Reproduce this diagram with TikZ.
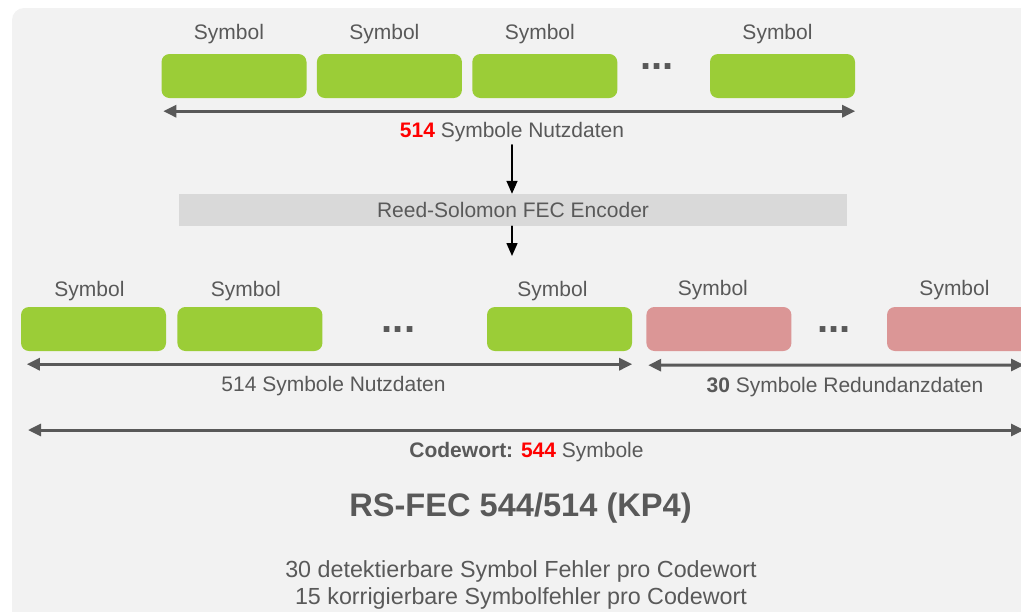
\documentclass[tikz,border=0pt]{standalone}
\usepackage{fontspec}
\setmainfont{Liberation Sans}
\usetikzlibrary{arrows.meta}
\usetikzlibrary{positioning}
\definecolor{bggray}{HTML}{F2F2F2}
\definecolor{txtgray}{HTML}{595959}
\definecolor{symgreen}{HTML}{9BCD37}
\definecolor{sympink}{HTML}{DB9696}
\definecolor{encgray}{HTML}{D9D9D9}
\definecolor{hlred}{HTML}{FF0000}

\begin{document}
\begin{tikzpicture}[line cap=round,line join=round,x=1pt,y=-1pt,
  font=\fontsize{21}{25}\selectfont,text=txtgray,
  symbox/.style={rounded corners=8pt,minimum width=145pt,minimum height=44pt,inner sep=0pt},
  databox/.style={symbox,fill=symgreen},
  redbox/.style={symbox,fill=sympink},
  symlbl/.style={anchor=base,inner sep=0pt},
  dots/.style={anchor=base,inner sep=0pt,font=\fontsize{40}{40}\selectfont\bfseries},
  dim/.style={txtgray,line width=3pt,{Triangle[length=13pt,width=12pt]}-{Triangle[length=13pt,width=12pt]}},
  flow/.style={black,line width=1.5pt,-{Triangle[length=13pt,width=11pt]}}]
\useasboundingbox (0,0) rectangle (1021,611);
\clip (0,0) rectangle (1021,611);
\fill [bggray,rounded corners=12pt] (12,8) rectangle (1045,640);

% Nutzdaten vor dem Encoder
\node [databox] (t1) at (234,76) {};
\node [databox,right=10pt of t1] (t2) {};
\node [databox,right=10pt of t2] (t3) {};
\node [databox] (t4) at (782.5,76) {};
\node [dots] (tdots) at (657,69) {...};
\node [symlbl] (lt1) at ([xshift=-5pt,yshift=14pt]t1.north) {Symbol};
\node [symlbl] (lt2) at ([xshift=-5pt,yshift=14pt]t2.north) {Symbol};
\node [symlbl] (lt3) at ([xshift=-5pt,yshift=14pt]t3.north) {Symbol};
\node [symlbl] (lt4) at ([xshift=-5pt,yshift=14pt]t4.north) {Symbol};
\draw [dim] ([xshift=2pt,yshift=-13pt]t1.south west) -- ([yshift=-13pt]t4.south east);
\node [anchor=base] (nutz) at (512,137) {\textcolor{hlred}{\textbf{514}} Symbole Nutzdaten};

% Encoder
\node [fill=encgray,minimum width=668pt,minimum height=32pt,inner sep=0pt] (enc) at (513,210) {Reed-Solomon FEC Encoder};
\coordinate (encout) at (512,256);
\draw [flow] (nutz.south -| encout) -- (enc.north -| encout);
\draw [flow] (enc.south -| encout) -- (encout);

% Codewort
\node [databox] (b1) at (93.5,329) {};
\node [databox,right=11pt of b1] (b2) {};
\node [databox] (b3) at (559.5,329) {};
\node [redbox,right=14pt of b3] (r1) {};
\node [redbox] (r2) at (959.5,329) {};
\node [dots] (bdots) at (398.5,332) {...};
\node [dots] (rdots) at (834,332) {...};
\node [symlbl] (lb1) at ([xshift=-4pt,yshift=10pt]b1.north) {Symbol};
\node [symlbl] (lb2) at ([xshift=-4pt,yshift=10pt]b2.north) {Symbol};
\node [symlbl] (lb3) at ([xshift=-7pt,yshift=10pt]b3.north) {Symbol};
\node [symlbl] (lr1) at ([xshift=-6pt,yshift=11pt]r1.north) {Symbol};
\node [symlbl] (lr2) at ([xshift=-5pt,yshift=11pt]r2.north) {Symbol};
\coordinate (rend) at (1024,365);
\coordinate (cwstart) at (28,430);
\coordinate (cwend) at (1024,430);
\draw [dim] ([xshift=6pt,yshift=-13pt]b1.south west) -- ([yshift=-13pt]b3.south east);
\draw [dim] ([xshift=2pt,yshift=-14pt]r1.south west) -- (rend);
\draw [dim] (cwstart) -- (cwend);
\node [anchor=base] (nutz2) at (333.5,391) {514 Symbole Nutzdaten};
\node [anchor=base] (redund) at (845,392) {\textbf{30} Symbole Redundanzdaten};
\node [anchor=base] (cw) at (526.5,457) {\textbf{Codewort: \textcolor{hlred}{544}} Symbole};

% Eigenschaften
\node [anchor=base,font=\fontsize{32.6}{38}\selectfont\bfseries] (title) at (520.5,516) {RS-FEC 544/514 (KP4)};
\node [anchor=base,font=\fontsize{23.3}{28}\selectfont] (det) at (521,577) {30 detektierbare Symbol Fehler pro Codewort};
\node [anchor=base,font=\fontsize{23.3}{28}\selectfont] (korr) at (521,604) {15 korrigierbare Symbolfehler pro Codewort};
\end{tikzpicture}
\end{document}
